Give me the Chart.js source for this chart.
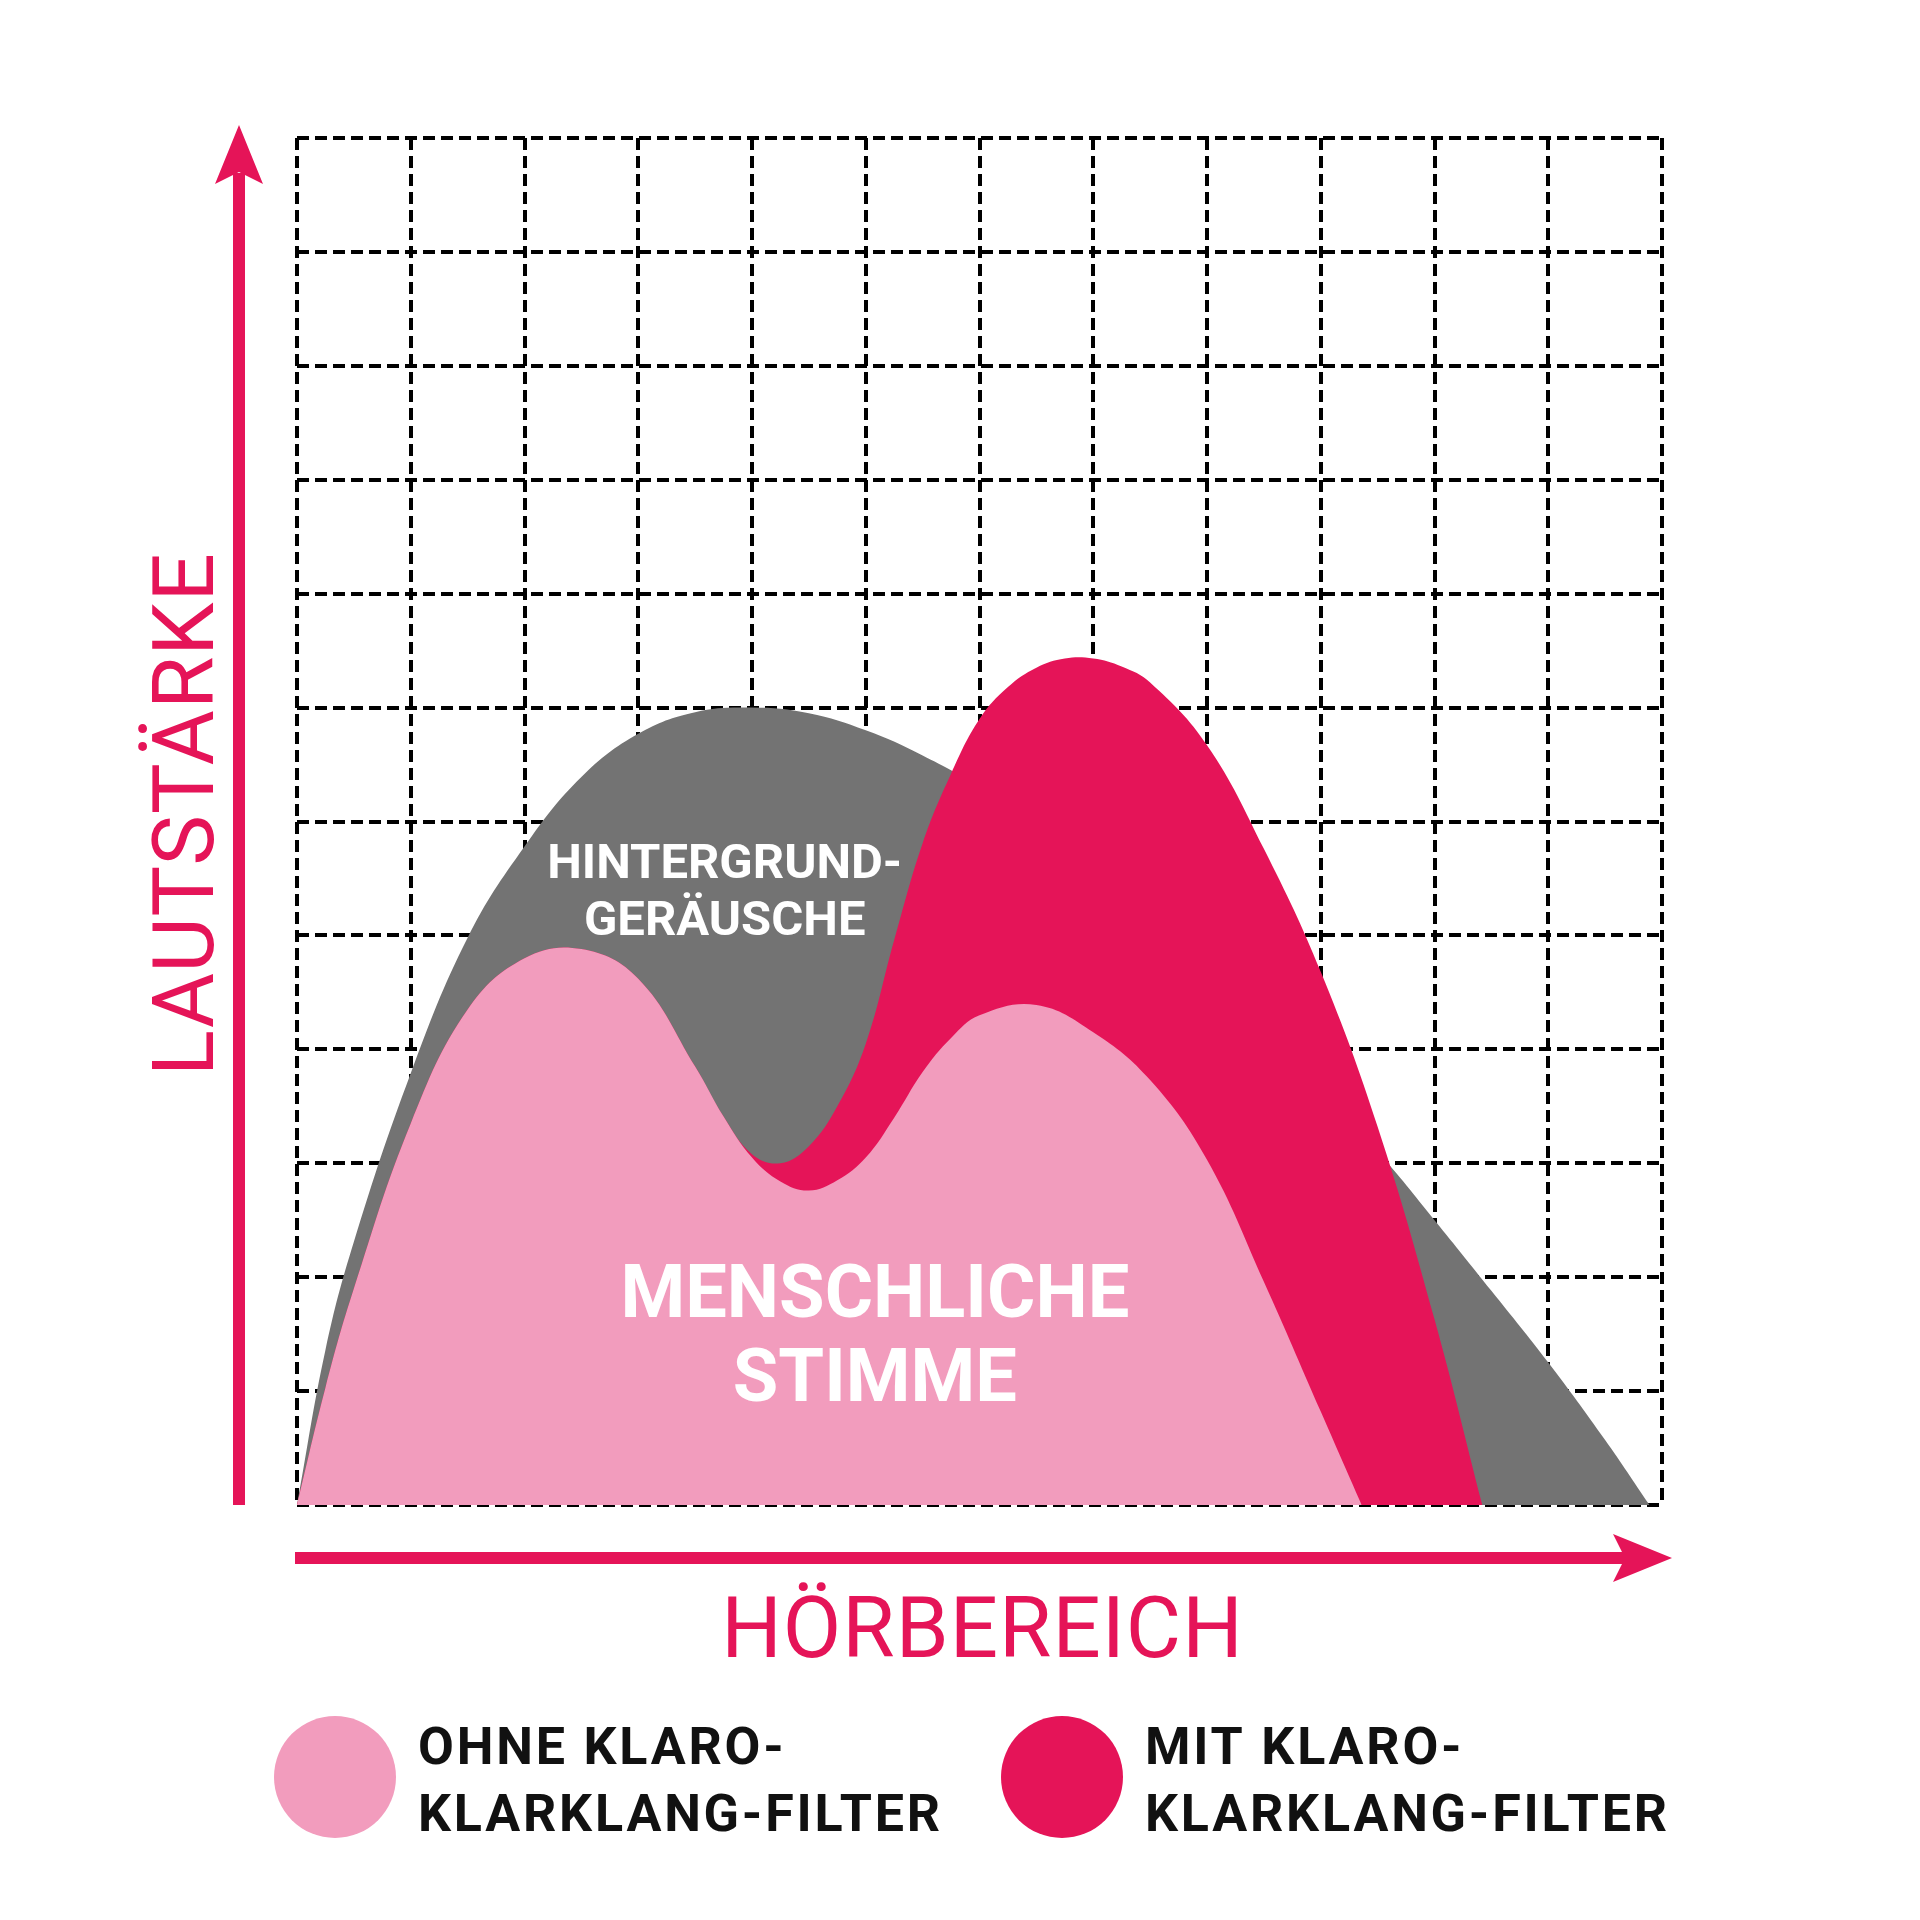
<!DOCTYPE html>
<html>
<head>
<meta charset="utf-8">
<script src="https://cdn.jsdelivr.net/npm/chart.js@4.4.1/dist/chart.umd.min.js"></script>
<style>
  html, body { margin: 0; padding: 0; background: #fff; }
  canvas { display: block; }
</style>
</head>
<body>
<canvas id="chart" width="1920" height="1920"></canvas>
<script>
// Raster: 12 x 12 Einheiten (Hörbereich / Lautstärke)
const gridMax = 12;

// menschliche Stimme ohne Filter (rosa)
const ohneX = [0, 0.25, 0.5, 1, 1.5, 2, 2.5, 3, 3.5, 3.75, 4, 4.25, 4.5, 4.75, 5, 5.25, 5.5, 5.75, 6, 6.5, 7, 7.5, 8, 8.5, 9, 9.36];
const ohneY = [0, 1.03, 1.9, 3.35, 4.35, 4.8, 4.88, 4.62, 3.85, 3.41, 3.05, 2.84, 2.76, 2.85, 3.05, 3.4, 3.8, 4.1, 4.3, 4.39, 4.15, 3.73, 3.03, 1.96, 0.82, 0];

// menschliche Stimme mit Filter (magenta)
const mitX = [0, 0.25, 0.5, 1, 1.5, 2, 2.5, 3, 3.5, 3.75, 4, 4.25, 4.5, 4.75, 5, 5.25, 5.5, 5.75, 6, 6.25, 6.5, 6.75, 7, 7.25, 7.5, 8, 8.5, 9, 9.5, 10, 10.42];
const mitY = [0, 1.03, 1.9, 3.35, 4.35, 4.8, 4.88, 4.62, 3.85, 3.41, 3.08, 3.0, 3.15, 3.5, 4.05, 4.96, 5.81, 6.42, 6.9, 7.18, 7.35, 7.43, 7.43, 7.36, 7.22, 6.67, 5.76, 4.68, 3.32, 1.63, 0];

// Hintergrundgeräusche (grau)
const laermX = [0, 0.25, 0.5, 1, 1.5, 2, 2.5, 3, 3.5, 4, 4.5, 5, 5.5, 6, 6.5, 7, 7.5, 8, 8.5, 9, 9.5, 10, 10.5, 11, 11.5, 11.89];
const laermY = [0, 1.36, 2.31, 3.79, 4.98, 5.78, 6.39, 6.77, 6.96, 7.0, 6.95, 6.8, 6.58, 6.3, 5.95, 5.55, 5.1, 4.6, 4.1, 3.6, 3.1, 2.5, 1.88, 1.25, 0.57, 0];

const legendLabels = [["OHNE KLARO-", "KLARKLANG-FILTER"], ["MIT KLARO-", "KLARKLANG-FILTER"]];
const areaLabels = [["HINTERGRUND-", "GERÄUSCHE"], ["MENSCHLICHE", "STIMME"]];
const axisTitles = ["HÖRBEREICH", "LAUTSTÄRKE"];

const PINK = "#f29cbd";
const MAGENTA = "#e51458";
const GRAY = "#737373";

const toPoints = (xs, ys) => xs.map((x, i) => ({ x: x, y: ys[i] }));

// Pfeile, Achsentitel, Flächenbeschriftung und Legende
const decor = {
  id: "decor",
  afterDraw(chart) {
    const ctx = chart.ctx;
    const { left, right, top, bottom } = chart.chartArea;
    const sx = chart.scales.x, sy = chart.scales.y;
    ctx.save();
    ctx.fillStyle = MAGENTA;

    // y arrow
    const ax = left - 58;
    ctx.fillRect(ax - 6, top + 35, 12, bottom - top - 35);
    ctx.beginPath();
    ctx.moveTo(ax, top - 13);
    ctx.lineTo(ax + 24, top + 46);
    ctx.lineTo(ax, top + 34);
    ctx.lineTo(ax - 24, top + 46);
    ctx.closePath();
    ctx.fill();

    // x arrow
    const ay = bottom + 53;
    ctx.fillRect(left - 2, ay - 6, right - left - 30, 12);
    ctx.beginPath();
    ctx.moveTo(right + 10, ay);
    ctx.lineTo(right - 49, ay - 24);
    ctx.lineTo(right - 37, ay);
    ctx.lineTo(right - 49, ay + 24);
    ctx.closePath();
    ctx.fill();

    // axis titles
    ctx.font = "400 85px Roboto";
    ctx.letterSpacing = "1px";
    ctx.textAlign = "center";
    ctx.textBaseline = "alphabetic";
    ctx.fillText(axisTitles[0], (left + right) / 2 + 3, bottom + 152);
    ctx.save();
    ctx.translate(left - 84, 814);
    ctx.rotate(-Math.PI / 2);
    ctx.fillText(axisTitles[1], 0, 0);
    ctx.restore();

    // labels inside the areas
    ctx.letterSpacing = "0px";
    ctx.fillStyle = "#fff";
    ctx.font = "700 49px Roboto";
    ctx.fillText(areaLabels[0][0], sx.getPixelForValue(3.76), sy.getPixelForValue(5.5));
    ctx.fillText(areaLabels[0][1], sx.getPixelForValue(3.76), sy.getPixelForValue(5.0));
    ctx.font = "700 74px Roboto";
    ctx.fillText(areaLabels[1][0], sx.getPixelForValue(5.08), sy.getPixelForValue(1.65));
    ctx.fillText(areaLabels[1][1], sx.getPixelForValue(5.08), sy.getPixelForValue(0.91));

    // legend
    const legendColors = [PINK, MAGENTA];
    const legendX = [335, 1062];
    ctx.letterSpacing = "2.8px";
    legendLabels.forEach((lines, i) => {
      ctx.fillStyle = legendColors[i];
      ctx.beginPath();
      ctx.arc(legendX[i], 1777, 61, 0, Math.PI * 2);
      ctx.fill();
      ctx.fillStyle = "#111";
      ctx.font = "700 52px Roboto";
      ctx.textAlign = "left";
      ctx.fillText(lines[0], legendX[i] + 83, 1764);
      ctx.fillText(lines[1], legendX[i] + 83, 1831);
    });
    ctx.restore();
  }
};

const gridAxis = {
  type: "linear",
  min: 0,
  max: gridMax,
  ticks: { display: false, stepSize: 1 },
  grid: { color: "#000", lineWidth: 4, drawTicks: false },
  border: { display: false, dash: [12, 6] }
};

new Chart(document.getElementById("chart").getContext("2d"), {
  type: "line",
  data: {
    datasets: [
      { label: legendLabels[0].join(" "), data: toPoints(ohneX, ohneY), backgroundColor: PINK, fill: "origin", order: 1 },
      { label: legendLabels[1].join(" "), data: toPoints(mitX, mitY), backgroundColor: MAGENTA, fill: "origin", order: 2 },
      { label: areaLabels[0].join(""), data: toPoints(laermX, laermY), backgroundColor: GRAY, fill: "origin", order: 3 }
    ]
  },
  options: {
    responsive: false,
    animation: false,
    devicePixelRatio: 1,
    layout: { padding: { left: 297, top: 138, right: 258, bottom: 415 } },
    elements: {
      line: { borderWidth: 0, tension: 0.4 },
      point: { radius: 0 }
    },
    plugins: { legend: { display: false }, tooltip: { enabled: false } },
    scales: { x: gridAxis, y: gridAxis }
  },
  plugins: [decor]
});
</script>
</body>
</html>
